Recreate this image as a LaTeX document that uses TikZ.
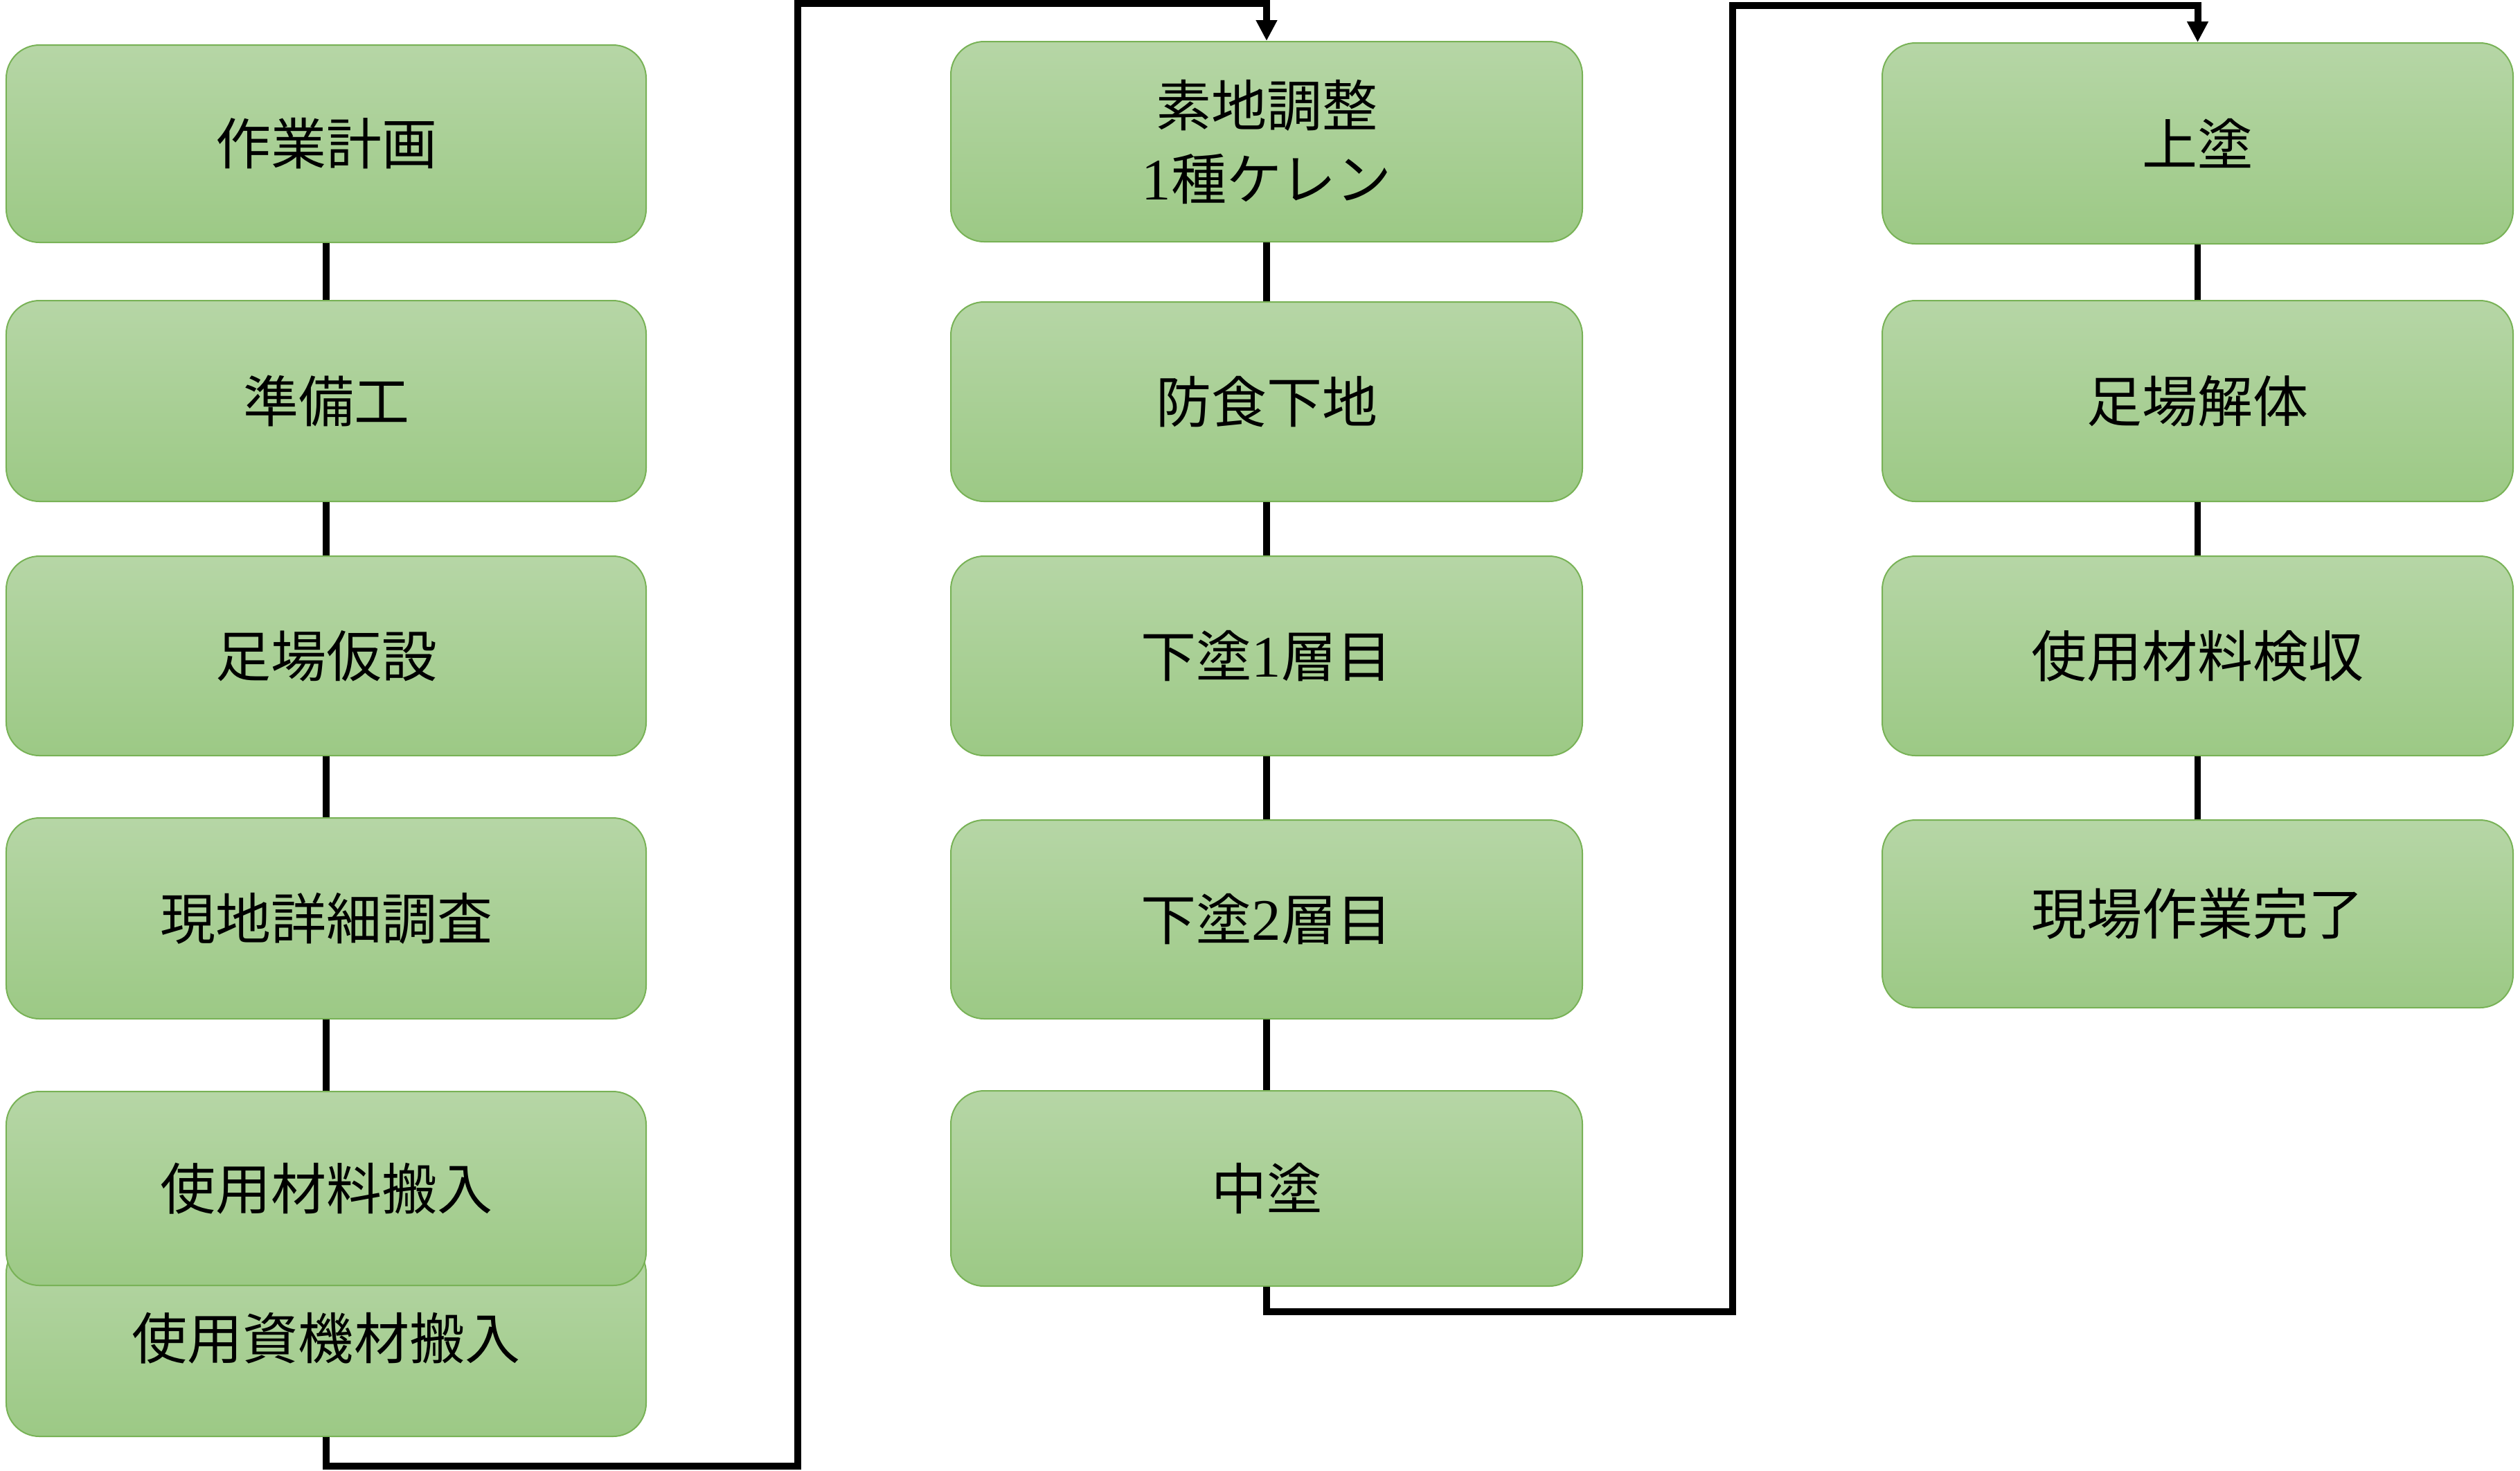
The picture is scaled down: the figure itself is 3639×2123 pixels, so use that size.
\documentclass[tikz,border=0pt]{standalone}
\usepackage{fontspec}
\newfontfamily\jp{Noto Sans CJK JP}
\newfontfamily\lat{Liberation Serif}
\usetikzlibrary{arrows.meta}
\definecolor{topg}{RGB}{182,214,166}
\definecolor{botg}{RGB}{156,201,133}
\definecolor{boxborder}{RGB}{120,178,86}
\tikzset{
  stepbox/.style={rounded corners=9.6pt, draw=boxborder, line width=0.4pt,
    top color=topg, bottom color=botg, minimum height=58pt, inner sep=0pt,
    font=\jp\fontsize{16pt}{21.2pt}\selectfont, align=center},
  colA/.style={stepbox, minimum width=184.8pt},
  colB/.style={stepbox, minimum width=182.4pt},
  colC/.style={stepbox, minimum width=182.2pt},
  link/.style={line width=1.9pt, black},
  flow/.style={line width=2pt, black, -{Triangle[width=5.8pt,length=6pt]}}
}
\begin{document}
\begin{tikzpicture}[x=0.2pt,y=-0.2pt]
\useasboundingbox (0,0) rectangle (3639,2123);
% column 1
\node[colA, minimum height=57pt] (a1) at (471,207.5) {作業計画};
\node[colA] (a2) at (471,579) {準備工};
\node[colA, minimum height=57.6pt] (a3) at (471,947) {足場仮設};
\node[colA] (a4) at (471,1326) {現地詳細調査};
\node[colA, minimum height=56.8pt] (a6) at (471,1932) {使用資機材搬入};
\node[colA, minimum height=56pt] (a5) at (471,1716) {使用材料搬入};
% column 2
\node[colB, minimum height=57.8pt] (b1) at (1829,204.5) {素地調整\\{\lat\fontsize{17pt}{21.2pt}\selectfont 1}種ケレン};
\node[colB, minimum height=57.6pt] (b2) at (1829,580) {防食下地};
\node[colB, minimum height=57.6pt] (b3) at (1829,947) {下塗{\lat\fontsize{17pt}{21.2pt}\selectfont 1}層目};
\node[colB, minimum height=57.4pt] (b4) at (1829,1327.5) {下塗{\lat\fontsize{17pt}{21.2pt}\selectfont 2}層目};
\node[colB, minimum height=56.4pt] (b5) at (1829,1716) {中塗};
% column 3
\node[colC] (c1) at (3173.5,207) {上塗};
\node[colC] (c2) at (3173.5,579) {足場解体};
\node[colC, minimum height=57.6pt] (c3) at (3173.5,947) {使用材料検収};
\node[colC, minimum height=54.2pt] (c4) at (3173.5,1319.5) {現場作業完了};
% in-column links
\draw[link] (a1.south) -- (a2.north);
\draw[link] (a2.south) -- (a3.north);
\draw[link] (a3.south) -- (a4.north);
\draw[link] (a4.south) -- (a5.north);
\draw[link] (b1.south) -- (b2.north);
\draw[link] (b2.south) -- (b3.north);
\draw[link] (b3.south) -- (b4.north);
\draw[link] (b4.south) -- (b5.north);
\draw[link] (c1.south) -- (c2.north);
\draw[link] (c2.south) -- (c3.north);
\draw[link] (c3.south) -- (c4.north);
% column transfers
\coordinate (p1) at (471,2117);
\coordinate (p2) at (1152,2117);
\coordinate (p3) at (1152,5);
\coordinate (p4) at (1829,5);
\draw[flow, line join=miter] (a6.south) -- (p1) -- (p2) -- (p3) -- (p4) -- (b1.north);
\coordinate (q1) at (1829,1894);
\coordinate (q2) at (2502,1894);
\coordinate (q3) at (2502,8);
\coordinate (q4) at (3173.5,8);
\draw[flow, line join=miter] (b5.south) -- (q1) -- (q2) -- (q3) -- (q4) -- (c1.north);
\end{tikzpicture}
\end{document}
